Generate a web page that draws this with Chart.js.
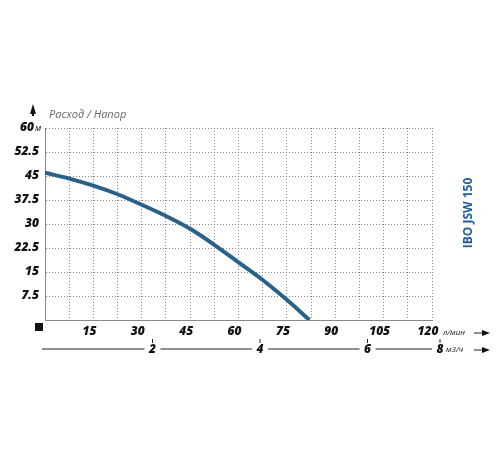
<!DOCTYPE html><html><head><meta charset="utf-8">
<script src="https://cdn.jsdelivr.net/npm/chart.js@4"></script>
<style>body{margin:0;background:#fff}#w{width:500px;height:450px}</style></head><body><div id="w"><canvas id="c"></canvas></div>
<script>
const flowLmin=[0,7.5,15,22.5,30,37.5,45,52.5,60,67.5,75,82];
const headM=[46,44.2,42,39.3,36,32.5,28.5,23.5,18,12.5,6.3,0];
const xTicks=[15,30,45,60,75,90,105,120];
const yTicks=[7.5,15,22.5,30,37.5,45,52.5,60];
const m3Ticks=[2,4,6,8];
const title='IBO JSW 150';
const ctx=document.getElementById('c');
const deco={id:'deco',afterDraw(ch){
 const c=ch.ctx,x=ch.scales.x,y=ch.scales.y,a=ch.chartArea;
 c.save();c.fillStyle='#111';c.font='italic 800 12px "Open Sans"';
 c.textBaseline='middle';c.textAlign='right';
 yTicks.forEach(v=>c.fillText(String(v),v===60?34:39,y.getPixelForValue(v)));
 c.textAlign='center';c.textBaseline='top';
 xTicks.forEach(v=>c.fillText(String(v),x.getPixelForValue(v)-4,a.bottom+6));
 const yy=a.bottom+29;
 c.strokeStyle='#222';c.lineWidth=1;
 const m3px=v=>v===8?440:x.getPixelForValue(v*1000/60);
 let prev=42;
 m3Ticks.forEach(v=>{const px=m3px(v);c.beginPath();c.moveTo(prev,yy);c.lineTo(px-8,yy);c.stroke();
   c.beginPath();c.moveTo(px,yy-10);c.lineTo(px,yy-6);c.stroke();
   c.textBaseline='middle';c.fillText(String(v),px,yy+1);prev=px+8;});
 c.font='italic 8px "Open Sans"';c.textAlign='left';
 c.fillText('м3/ч',446,yy+1);
 c.fillText('л/мин',443,a.bottom+13);
 c.font='italic 9px "Open Sans"';c.fillText('м',35,a.top);
 function arr(x0,yv){c.beginPath();c.moveTo(x0,yv);c.lineTo(x0+12,yv);c.stroke();c.beginPath();c.moveTo(x0+16,yv);c.lineTo(x0+8,yv-3);c.lineTo(x0+8,yv+3);c.fill();}
 arr(474,a.bottom+13);arr(474,yy+1);
 c.fillRect(35,a.bottom+3,8,8);
 c.beginPath();c.moveTo(33,104);c.lineTo(30,114);c.lineTo(36,114);c.closePath();c.fill();c.fillRect(32,113,2,3);
 c.font='italic 11px "Open Sans"';c.fillStyle='#666';c.textBaseline='middle';c.fillText('Расход / Напор',49,115);
 c.translate(469,213);c.rotate(-Math.PI/2);c.fillStyle='#1f5fa0';c.font='bold 12px "Open Sans"';c.textAlign='center';c.fillText(title,0,0);
 c.restore();}};
new Chart(ctx,{type:'line',data:{datasets:[{data:flowLmin.map((f,i)=>({x:f,y:headM[i]})),borderColor:'#2a6189',borderWidth:4,pointRadius:0,tension:0.4,cubicInterpolationMode:'monotone'}]},
options:{responsive:true,maintainAspectRatio:false,animation:false,
layout:{padding:{left:45,right:68,top:128,bottom:130}},
plugins:{legend:{display:false},tooltip:{enabled:false}},
scales:{x:{type:'linear',min:0,max:120,ticks:{display:false,stepSize:7.5},grid:{color:'#888',lineWidth:1,drawTicks:false},border:{display:true,color:'#888',dash:[1,2]}},
y:{min:0,max:60,ticks:{display:false,stepSize:7.5},grid:{color:'#888',drawTicks:false},border:{display:true,color:'#888',dash:[1,2]}}}},
plugins:[deco]});
</script></body></html>
